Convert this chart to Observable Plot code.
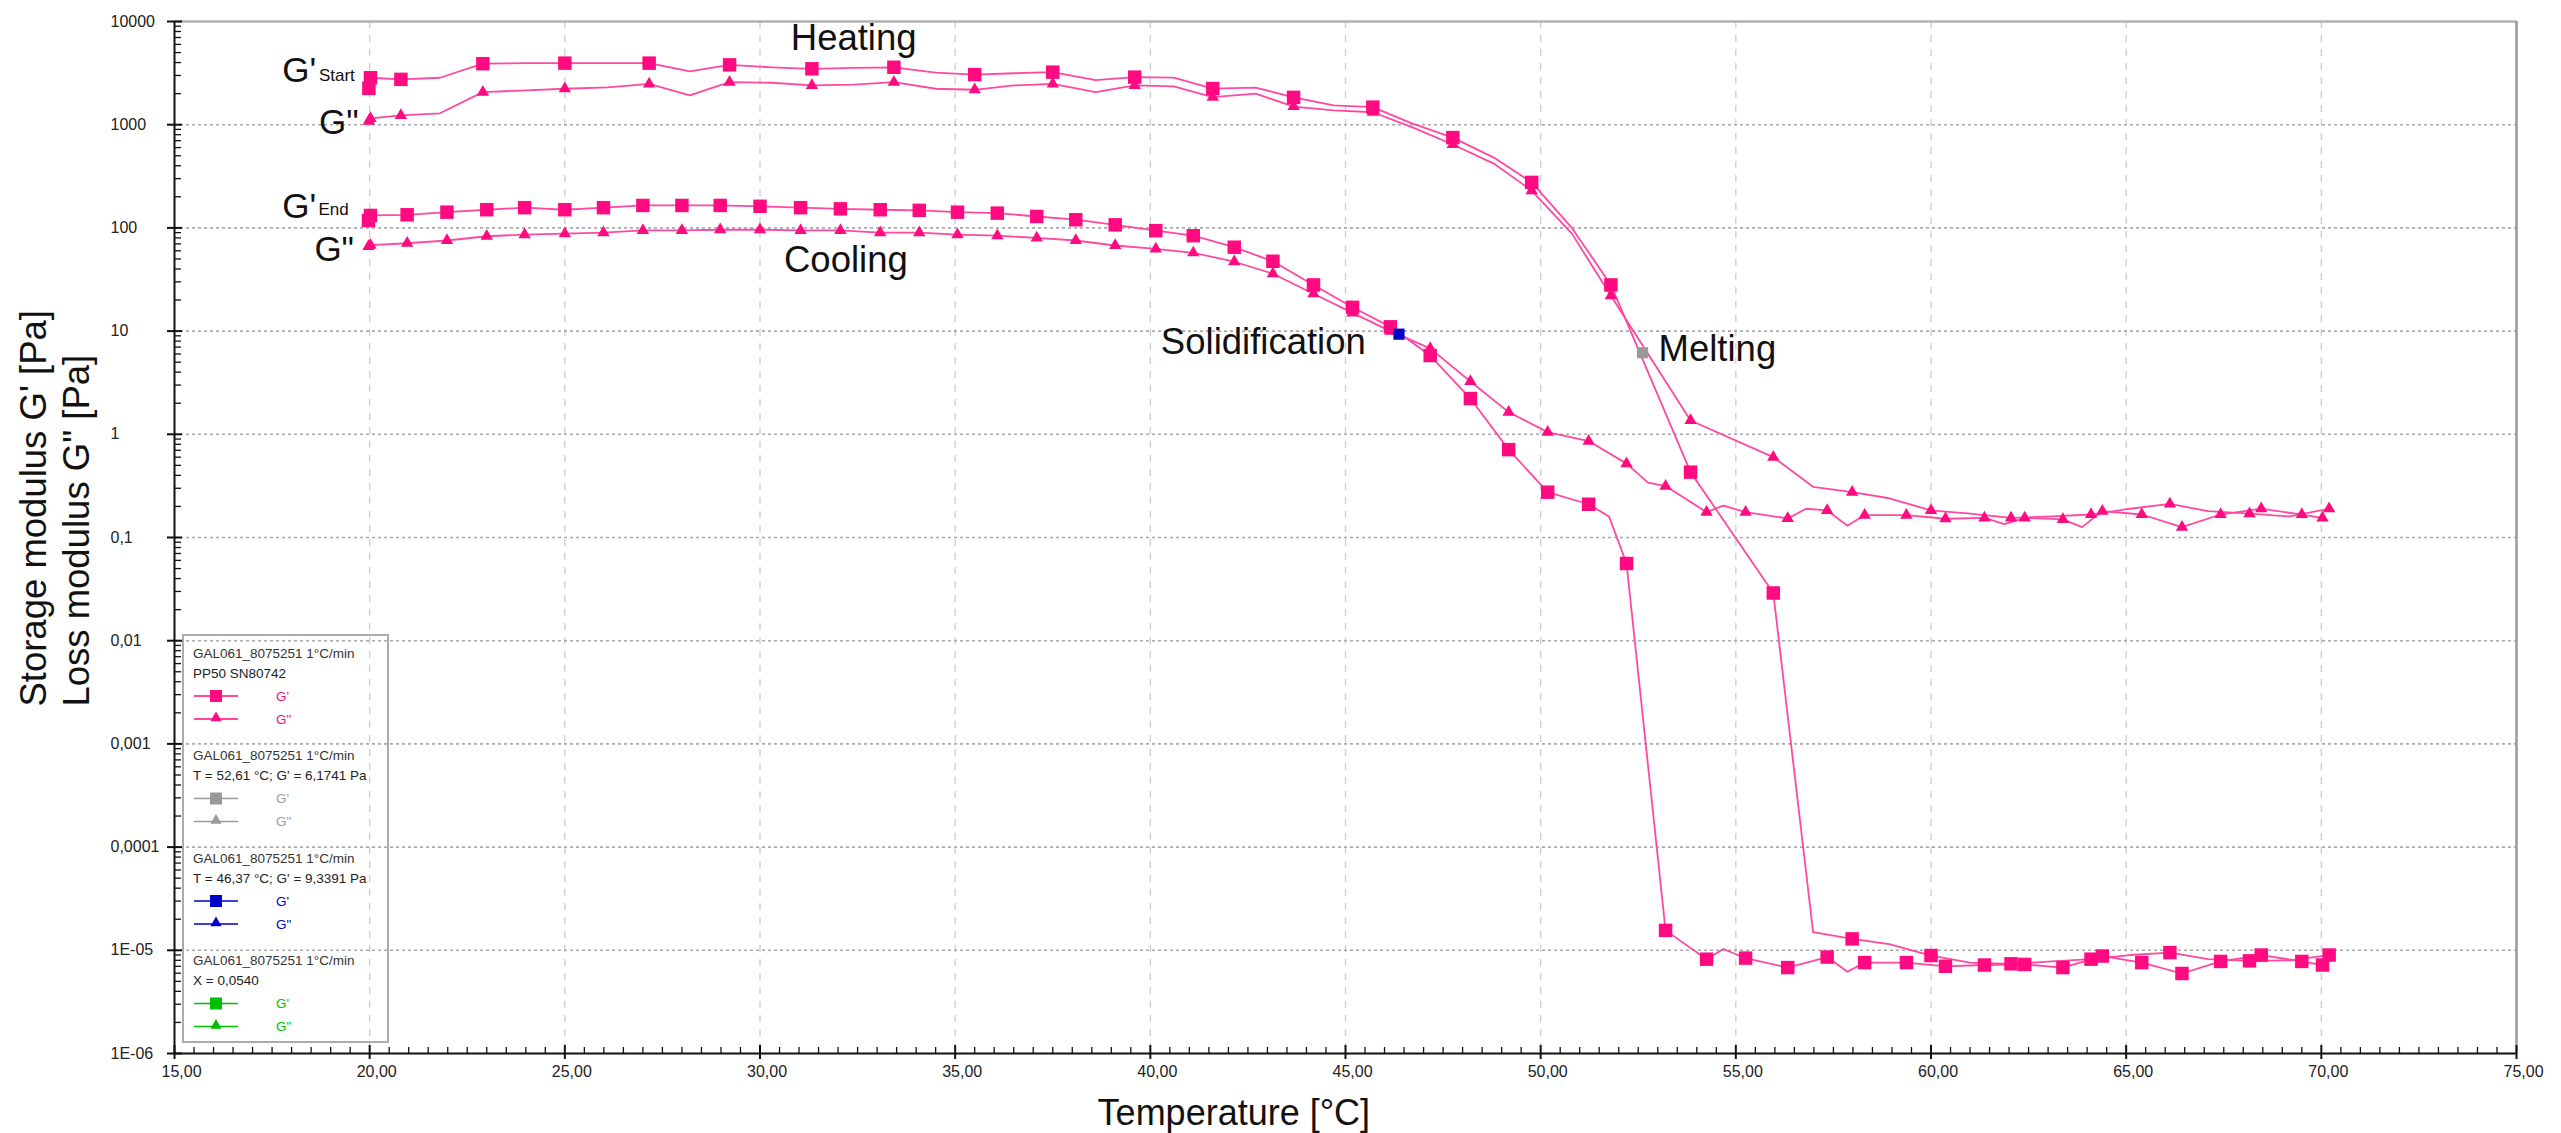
<!DOCTYPE html>
<html>
<head>
<meta charset="utf-8">
<script src="https://cdn.jsdelivr.net/npm/d3@7"></script>
<script src="https://cdn.jsdelivr.net/npm/@observablehq/plot@0.6"></script>
<style>
  html, body { margin: 0; padding: 0; background: #fff; }
  #chart svg { display: block; }
</style>
</head>
<body>
<div id="chart"></div>
<script>
// ---------------- data ----------------
const xTicks = [15, 20, 25, 30, 35, 40, 45, 50, 55, 60, 65, 70, 75];
const xTickLabels = ["15,00", "20,00", "25,00", "30,00", "35,00", "40,00", "45,00", "50,00", "55,00", "60,00", "65,00", "70,00", "75,00"];
const yTicks = [1e4, 1e3, 100, 10, 1, 0.1, 0.01, 0.001, 1e-4, 1e-5, 1e-6];
const yTickLabels = ["10000", "1000", "100", "10", "1", "0,1", "0,01", "0,001", "0,0001", "1E-05", "1E-06"];

// Heating run (G' squares, G'' triangles); markers only on flagged points
const tHeat = [19.98, 20.02, 20.8, 21.8, 22.9, 24.0, 25.0, 26.1, 27.16, 28.2, 29.22, 30.3, 31.33, 32.4, 33.43, 34.5, 35.5, 36.5, 37.5, 38.6, 39.6, 40.6, 41.6, 42.7, 43.67, 44.7, 45.7, 46.7, 47.75, 48.8, 49.77, 50.8, 51.8, 53.84, 55.96, 56.98, 57.98, 58.93, 60.0, 61.0, 62.05, 63.1, 64.1, 65.1, 66.12, 67.1, 68.16, 69.2, 70.2];
const heatGp = [2250, 2850, 2750, 2850, 3900, 3950, 3950, 3950, 3950, 3280, 3800, 3600, 3480, 3550, 3600, 3200, 3060, 3150, 3230, 2700, 2890, 2860, 2240, 2290, 1840, 1540, 1480, 1030, 750, 480, 276, 100, 28, 0.43, 0.029, 1.5e-5, 1.29e-5, 1.15e-5, 8.9e-6, 7.6e-6, 7.4e-6, 7.8e-6, 8.2e-6, 9.0e-6, 9.5e-6, 8.2e-6, 7.9e-6, 8.0e-6, 9.0e-6];
const heatGpp = [1080, 1150, 1230, 1290, 2070, 2150, 2230, 2300, 2490, 1920, 2580, 2550, 2400, 2450, 2580, 2230, 2180, 2400, 2490, 2070, 2400, 2350, 1850, 2000, 1500, 1375, 1320, 946, 643, 420, 230, 88, 22, 1.36, 0.6, 0.31, 0.275, 0.24, 0.183, 0.17, 0.155, 0.16, 0.167, 0.19, 0.212, 0.18, 0.17, 0.16, 0.19];
const heatMark = [1, 1, 1, 0, 1, 0, 1, 0, 1, 0, 1, 0, 1, 0, 1, 0, 1, 0, 1, 0, 1, 0, 1, 0, 1, 0, 1, 0, 1, 0, 1, 0, 1, 1, 1, 0, 1, 0, 1, 0, 1, 0, 1, 0, 1, 0, 1, 0, 1];

// Cooling run, G'
const tCoolGp = [19.97, 20.02, 20.96, 21.98, 23.0, 23.97, 25.0, 25.99, 27.0, 28.0, 28.98, 30.0, 31.04, 32.06, 33.08, 34.08, 35.06, 36.08, 37.09, 38.09, 39.1, 40.14, 41.1, 42.15, 43.14, 44.18, 45.18, 46.15, 47.17, 48.2, 49.18, 50.18, 51.23, 51.75, 52.2, 53.2, 54.25, 54.68, 55.25, 56.33, 57.34, 57.86, 58.3, 59.37, 60.37, 61.37, 62.4, 63.38, 64.39, 65.4, 66.43, 67.42, 68.46, 69.5, 70.03];
const coolGp = [118, 132, 134, 142, 150, 157, 150, 157, 165, 165, 165, 162, 157, 153, 150, 148, 142, 139, 129, 120, 107, 94, 84, 65, 47.5, 28, 17, 11, 5.8, 2.22, 0.71, 0.275, 0.21, 0.16, 0.056, 1.56e-5, 8.2e-6, 1.03e-5, 8.4e-6, 6.8e-6, 8.6e-6, 6.2e-6, 7.6e-6, 7.6e-6, 7.0e-6, 7.2e-6, 7.3e-6, 6.8e-6, 8.8e-6, 7.6e-6, 5.96e-6, 7.8e-6, 9.0e-6, 7.8e-6, 7.2e-6];
const coolGpMark = [1, 1, 1, 1, 1, 1, 1, 1, 1, 1, 1, 1, 1, 1, 1, 1, 1, 1, 1, 1, 1, 1, 1, 1, 1, 1, 1, 1, 1, 1, 1, 1, 1, 0, 1, 1, 1, 0, 1, 1, 1, 0, 1, 1, 1, 1, 1, 1, 1, 1, 1, 1, 1, 1, 1];

// Cooling run, G''
const tCoolGpp = [19.97, 20.02, 20.96, 21.98, 23.0, 23.97, 25.0, 25.99, 27.0, 28.0, 28.98, 30.0, 31.04, 32.06, 33.08, 34.08, 35.06, 36.08, 37.09, 38.09, 39.1, 40.14, 41.1, 42.15, 43.14, 44.18, 45.18, 46.15, 47.17, 48.2, 49.18, 50.18, 51.23, 52.2, 52.75, 53.2, 54.25, 54.68, 55.25, 56.33, 56.8, 57.34, 57.86, 58.3, 59.37, 60.37, 61.37, 61.88, 62.4, 63.38, 63.87, 64.39, 65.4, 66.43, 67.42, 68.46, 69.5, 70.03];
const coolGpp = [66, 68, 71, 75.5, 83, 86, 88, 90, 94.5, 94.5, 96, 96, 94.5, 94.5, 90, 90, 86, 84, 80, 75.5, 67.5, 62.7, 57.4, 47, 36, 23, 15, 10, 6.8, 3.25, 1.64, 1.05, 0.86, 0.52, 0.34, 0.315, 0.176, 0.204, 0.176, 0.153, 0.19, 0.183, 0.13, 0.165, 0.165, 0.152, 0.155, 0.135, 0.155, 0.15, 0.126, 0.18, 0.167, 0.126, 0.167, 0.19, 0.167, 0.155];
const coolGppMark = [1, 1, 1, 1, 1, 1, 1, 1, 1, 1, 1, 1, 1, 1, 1, 1, 1, 1, 1, 1, 1, 1, 1, 1, 1, 1, 1, 1, 1, 1, 1, 1, 1, 1, 0, 1, 1, 0, 1, 1, 0, 1, 0, 1, 1, 1, 1, 0, 1, 1, 0, 1, 1, 1, 1, 1, 1, 1];

// Cursor points (crossovers)
const meltPoint = {T: 52.61, v: 6.1741};
const solidPoint = {T: 46.37, v: 9.3391};

// Annotations
const annText   = ["Heating", "Cooling", "Solidification", "Melting", "G'", "Start", "G\"", "G'", "End", "G\""];
const annT      = [32.4, 32.2, 40.27, 53.02, 18.63, 18.70, 19.72, 18.63, 18.69, 19.60];
const annV      = [6800, 49, 7.87, 6.73, 3350, 3020, 1055, 161, 152, 61.8];
const annAnchor = ["middle", "middle", "start", "start", "end", "start", "end", "end", "start", "end"];
const annSize   = [36.5, 36.5, 36.5, 36.5, 35, 17, 35, 35, 17, 35];

// Legend
const legendTitles = ["GAL061_8075251 1°C/min", "GAL061_8075251 1°C/min", "GAL061_8075251 1°C/min", "GAL061_8075251 1°C/min"];
const legendSubs = ["PP50 SN80742", "T = 52,61 °C; G' = 6,1741 Pa", "T = 46,37 °C; G' = 9,3391 Pa", "X = 0,0540"];
const legendColors = ["#ff0a80", "#9a9a9a", "#0000c8", "#00c000"];
const legendItems = ["G'", "G\""];

// ---------------- chart ----------------
const PINK = "#ff0a80";
const LINE = "#ff48a0";
const FONT = "'Liberation Sans', Arial, Helvetica, sans-serif";
const W = 2561, H = 1133, ML = 174, MR = 45, MT = 21, MB = 80;
const FW = W - ML - MR, FH = H - MT - MB;

const toRows = (t, v, m) => t.map((T, i) => ({T, v: v[i], m: m[i]}));
const heatGpRows = toRows(tHeat, heatGp, heatMark);
const heatGppRows = toRows(tHeat, heatGpp, heatMark);
const coolGpRows = toRows(tCoolGp, coolGp, coolGpMark);
const coolGppRows = toRows(tCoolGpp, coolGpp, coolGppMark);

const minorX = d3.range(15, 75.001, 0.5).filter(d => Math.abs(d % 5) > 1e-9);
const minorY = [];
for (let e = -6; e < 4; e++) for (let k = 2; k <= 9; k++) minorY.push(k * Math.pow(10, e));

const ann = annText.map((s, i) => ({s, T: annT[i], v: annV[i], a: annAnchor[i], f: annSize[i]}));
const annMark = (anchor) => Plot.text(ann.filter(d => d.a === anchor), {
  x: "T", y: "v", text: "s", textAnchor: anchor, fontSize: "f", fill: "#111", lineAnchor: "middle"
});

const chart = Plot.plot({
  width: W, height: H,
  marginLeft: ML, marginRight: MR, marginTop: MT, marginBottom: MB,
  style: {fontFamily: FONT, background: "#fff", overflow: "visible"},
  x: {domain: [15, 75], axis: null},
  y: {type: "log", domain: [1e-6, 1e4], axis: null},
  marks: [
    // grid
    Plot.ruleX(xTicks.slice(1, -1), {x: d => d, stroke: "#cdcdcd", strokeWidth: 1.3, strokeDasharray: "7,7"}),
    Plot.ruleY(yTicks.slice(1, -1), {y: d => d, stroke: "#a9a9a9", strokeWidth: 1.6, strokeDasharray: "3,3"}),
    // frame (top & right)
    Plot.ruleY([1e4], {y: d => d, stroke: "#b0b0b0", strokeWidth: 2.5}),
    Plot.ruleX([75], {x: d => d, stroke: "#9a9a9a", strokeWidth: 2.5}),
    // curves
    Plot.line(heatGpRows, {x: "T", y: "v", stroke: LINE, strokeWidth: 1.8}),
    Plot.line(heatGppRows, {x: "T", y: "v", stroke: LINE, strokeWidth: 1.8}),
    Plot.line(coolGpRows, {x: "T", y: "v", stroke: LINE, strokeWidth: 1.8}),
    Plot.line(coolGppRows, {x: "T", y: "v", stroke: LINE, strokeWidth: 1.8}),
    Plot.dot(heatGpRows.filter(d => d.m), {x: "T", y: "v", symbol: "square", r: 7.6, fill: PINK}),
    Plot.dot(heatGppRows.filter(d => d.m), {x: "T", y: "v", symbol: "triangle", r: 4.6, fill: PINK}),
    Plot.dot(coolGpRows.filter(d => d.m), {x: "T", y: "v", symbol: "square", r: 7.6, fill: PINK}),
    Plot.dot(coolGppRows.filter(d => d.m), {x: "T", y: "v", symbol: "triangle", r: 4.6, fill: PINK}),
    Plot.dot([meltPoint], {x: "T", y: "v", symbol: "square", r: 6.3, fill: "#9a9a9a"}),
    Plot.dot([solidPoint], {x: "T", y: "v", symbol: "square", r: 6.3, fill: "#0000c8"}),
    // annotations
    annMark("middle"), annMark("start"), annMark("end"),
    // axes lines
    Plot.ruleX([15], {x: d => d, stroke: "#111", strokeWidth: 2}),
    Plot.ruleY([1e-6], {y: d => d, stroke: "#111", strokeWidth: 2}),
    // ticks
    Plot.tickX(minorX, {x: d => d, insetTop: FH - 6, stroke: "#111", strokeWidth: 1.3}),
    Plot.tickX(xTicks, {x: d => d, insetTop: FH - 8, insetBottom: -6, stroke: "#111", strokeWidth: 2}),
    Plot.tickY(minorY, {y: d => d, insetRight: FW - 7, stroke: "#111", strokeWidth: 1.3}),
    Plot.tickY(yTicks, {y: d => d, insetRight: FW - 8, insetLeft: -7, stroke: "#111", strokeWidth: 2}),
    // tick labels
    Plot.text(yTicks, {y: d => d, text: (d, i) => yTickLabels[i], frameAnchor: "left", textAnchor: "start", dx: -64, fontSize: 16, fill: "#222", lineAnchor: "middle"}),
    Plot.text(xTicks, {x: d => d, text: (d, i) => xTickLabels[i], frameAnchor: "bottom", dy: 18, dx: 7, fontSize: 16, fill: "#222", lineAnchor: "middle"}),
    // axis titles
    Plot.text(["Temperature [°C]"], {x: 42.14, frameAnchor: "bottom", dy: 60, fontSize: 36, fill: "#111", lineAnchor: "middle"}),
    Plot.text(["Storage modulus G' [Pa]"], {x: 11.42, y: 0.0023, rotate: -90, textAnchor: "start", fontSize: 36.5, fill: "#111", lineAnchor: "middle"}),
    Plot.text(["Loss modulus G\" [Pa]"], {x: 12.5, y: 0.0023, rotate: -90, textAnchor: "start", fontSize: 36.5, fill: "#111", lineAnchor: "middle"})
  ]
});

// Legend box inside the plot (bottom-left)
const svg = d3.select(chart);
const lg = svg.append("g").attr("font-family", FONT).attr("text-anchor", "start");
lg.append("rect").attr("x", 183).attr("y", 635).attr("width", 205).attr("height", 407)
  .attr("fill", "none").attr("stroke", "#ababab").attr("stroke-width", 2);
legendTitles.forEach((title, i) => {
  const y0 = 653 + i * 102.5;
  const c = legendColors[i];
  lg.append("text").attr("x", 193).attr("y", y0).attr("dy", "0.35em").attr("text-anchor", "start").attr("font-size", 13.5).attr("fill", "#333").text(title);
  lg.append("text").attr("x", 193).attr("y", y0 + 20).attr("dy", "0.35em").attr("text-anchor", "start").attr("font-size", 13.5).attr("fill", "#222").text(legendSubs[i]);
  legendItems.forEach((item, j) => {
    const yy = y0 + 43 + j * 23;
    lg.append("line").attr("x1", 194).attr("x2", 238).attr("y1", yy).attr("y2", yy).attr("stroke", c).attr("stroke-width", 1.5);
    if (j === 0) {
      lg.append("rect").attr("x", 216 - 6).attr("y", yy - 6).attr("width", 12).attr("height", 12).attr("fill", c);
    } else {
      lg.append("path").attr("d", d3.symbol(d3.symbolTriangle, 55)()).attr("transform", `translate(216,${yy - 1})`).attr("fill", c);
    }
    lg.append("text").attr("x", 276).attr("y", yy).attr("dy", "0.35em").attr("text-anchor", "start").attr("font-size", 13.5).attr("fill", c).text(item);
  });
});

document.getElementById("chart").appendChild(chart);
</script>
</body>
</html>
